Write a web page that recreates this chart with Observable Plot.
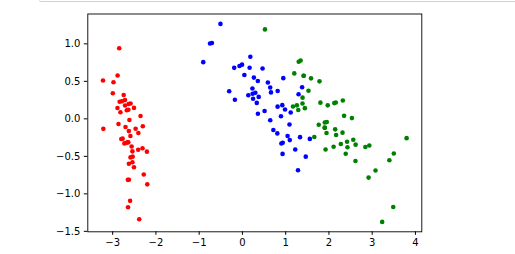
<!DOCTYPE html>
<html>
<head>
<meta charset="utf-8">
<script src="https://cdn.jsdelivr.net/npm/d3@7"></script>
<script src="https://cdn.jsdelivr.net/npm/@observablehq/plot@0.6"></script>
<style>
  html, body { margin: 0; padding: 0; background: #fff; }
  #wrap { position: relative; width: 515px; height: 254px; overflow: hidden; }
  #topline { position: absolute; left: 39px; top: 0; width: 480px; height: 1px; border-bottom: 1px solid #d0d0d0; border-left: 1px solid #e0e0e0; border-bottom-left-radius: 2px; }
</style>
</head>
<body>
<div id="wrap"><div id="topline"></div></div>
<script>
// Iris PCA projection (PC1, PC2 as plotted)
const species = ["setosa", "versicolor", "virginica"];
const colors = ["#ff0000", "#0000ff", "#008000"];

const setosaX = [-2.684,-2.714,-2.889,-2.745,-2.729,-2.281,-2.821,-2.626,-2.886,-2.673,-2.507,-2.613,-2.786,-3.224,-2.645,-2.386,-2.624,-2.648,-2.200,-2.588,-2.310,-2.544,-3.216,-2.303,-2.356,-2.507,-2.469,-2.562,-2.640,-2.632,-2.587,-2.410,-2.649,-2.597,-2.637,-2.866,-2.625,-2.801,-2.981,-2.590,-2.770,-2.849,-2.997,-2.406,-2.209,-2.714,-2.538,-2.839,-2.543,-2.703];
const setosaY = [-0.319,0.177,0.145,0.318,-0.327,-0.741,0.089,-0.163,0.578,0.114,-0.645,-0.015,0.235,0.511,-1.179,-1.338,-0.811,-0.312,-0.873,-0.514,-0.391,-0.433,-0.133,-0.099,0.037,0.146,-0.131,-0.368,-0.312,0.197,0.204,-0.411,-0.813,-1.093,0.121,-0.069,-0.599,-0.269,0.488,-0.229,-0.264,0.941,0.342,-0.189,-0.437,0.250,-0.504,0.228,-0.579,-0.108];

const versicolorX = [1.285,0.932,1.464,0.183,1.088,0.642,1.095,-0.749,1.044,-0.009,-0.508,0.512,0.265,0.985,-0.174,0.928,0.660,0.236,0.945,0.045,1.116,0.358,1.298,0.922,0.715,0.900,1.332,1.558,0.813,-0.306,-0.068,-0.190,0.136,1.380,0.588,0.807,1.221,0.815,0.246,0.166,0.465,0.891,0.231,-0.705,0.357,0.332,0.376,0.643,-0.906,0.299];
const versicolorY = [-0.685,-0.318,-0.504,0.828,-0.075,0.418,-0.283,1.005,-0.228,0.723,1.266,0.104,0.550,0.125,0.255,-0.467,0.353,0.334,0.543,0.584,0.085,0.069,0.328,0.183,-0.149,-0.329,-0.244,-0.267,0.163,0.368,0.705,0.680,0.314,0.421,0.484,-0.194,-0.408,0.372,0.269,0.682,0.671,0.034,0.404,1.012,0.505,0.213,0.293,-0.018,0.756,0.349];

const virginicaX = [2.531,1.415,2.617,1.972,2.350,3.397,0.521,2.933,2.321,2.917,1.662,1.803,2.166,1.346,1.586,1.904,1.950,3.487,3.796,1.301,2.428,1.199,3.500,1.389,2.275,2.614,1.259,1.291,2.124,2.388,2.842,3.231,2.159,1.444,1.781,3.077,2.144,1.905,1.169,2.108,2.314,1.922,1.415,2.563,2.419,1.944,1.527,1.764,1.901,1.390];
const virginicaY = [0.010,0.575,-0.344,0.180,0.040,-0.551,1.193,-0.356,0.244,-0.783,-0.242,0.216,-0.216,0.777,0.540,-0.119,-0.042,-1.176,-0.257,0.761,-0.378,0.606,-0.461,0.204,-0.335,-0.561,0.180,0.117,0.210,-0.465,-0.375,-1.374,0.217,0.143,0.500,-0.688,-0.140,-0.049,0.165,-0.372,-0.184,-0.409,0.575,-0.278,-0.305,-0.188,0.375,-0.079,-0.117,0.283];

const xTicks = [-3, -2, -1, 0, 1, 2, 3, 4];
const yTicks = [-1.5, -1.0, -0.5, 0.0, 0.5, 1.0];

const groups = [[setosaX, setosaY], [versicolorX, versicolorY], [virginicaX, virginicaY]];
const data = [];
groups.forEach(([xs, ys], g) => xs.forEach((x, i) => data.push({x, y: ys[i], s: species[g]})));

const minus = s => s.replace(/-/g, "\u2212");

const chart = Plot.plot({
  width: 515,
  height: 254,
  marginLeft: 87.3,
  marginRight: 93.7,
  marginTop: 13.5,
  marginBottom: 22.7,
  style: {fontFamily: "DejaVu Sans", fontSize: "10px", color: "#000", background: "transparent"},
  x: {domain: [-3.575, 4.147]},
  y: {domain: [-1.506, 1.398]},
  color: {domain: species, range: colors},
  marks: [
    Plot.dot(data, {x: "x", y: "y", fill: "s", r: 2.3, stroke: "none"}),
    Plot.frame({stroke: "#000", strokeWidth: 0.9}),
    Plot.axisX({ticks: xTicks, tickSize: 3.5, tickPadding: 4, tickFormat: d => minus(String(d)), label: null, fontSize: 10}),
    Plot.axisY({ticks: yTicks, tickSize: 3.5, tickPadding: 4, tickFormat: d => minus(d3.format(".1f")(d)), label: null, fontSize: 10})
  ]
});
document.getElementById("wrap").appendChild(chart);
</script>
</body>
</html>
